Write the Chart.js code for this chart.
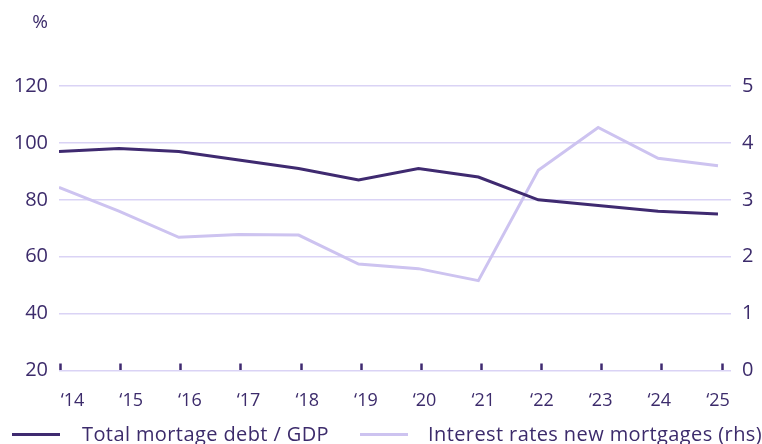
<!DOCTYPE html>
<html>
<head>
<meta charset="utf-8">
<title>Mortgage debt and interest rates</title>
<script src="https://cdn.jsdelivr.net/npm/chart.js@4.4.0/dist/chart.umd.min.js"></script>
<style>
    body { margin: 0; background: #fff; }
    #wrap { position: relative; width: 762px; height: 444px; }
    #legend { position: absolute; left: 0; top: 421px; width: 762px; height: 26px;
              font-family: "Open Sans", sans-serif; font-size: 20px; color: #3c2b6b;
              letter-spacing: 0.4px; }
    .item { position: absolute; top: 0; white-space: nowrap; line-height: 26px; }
    .swatch { position: absolute; top: 12px; height: 3px; width: 48px; }
</style>
</head>
<body>
<div id="wrap">
    <canvas id="chart" width="762" height="444"></canvas>
    <div id="legend">
        <span class="swatch" style="left:12px;background:#3f2a70"></span>
        <span class="item" style="left:82px">Total mortage debt / GDP</span>
        <span class="swatch" style="left:360px;background:#cdc3f0"></span>
        <span class="item" style="left:428px">Interest rates new mortgages (rhs)</span>
    </div>
</div>
<script>
// data
const years = [2014, 2015, 2016, 2017, 2018, 2019, 2020, 2021, 2022, 2023, 2024, 2025];
const debtToGdp = [97, 98, 97, 94, 91, 87, 91, 88, 80, 78, 76, 75];
const interestRates = [3.22, 2.8, 2.34, 2.39, 2.38, 1.87, 1.79, 1.58, 3.52, 4.27, 3.73, 3.6];
const leftTicks = [20, 40, 60, 80, 100, 120];
const rightTicks = [0, 1, 2, 3, 4, 5];

const textColor = '#3c2b6b';
const darkLine = '#3f2a70';
const lightLine = '#cdc3f0';
const gridColor = '#dad3f5';
const fontFamily = '"Open Sans", sans-serif';

// draws the "%" unit above the left axis
const unitLabel = {
    id: 'unitLabel',
    afterDraw(chart) {
        const ctx = chart.ctx;
        const yScale = chart.scales.y;
        ctx.save();
        ctx.font = '19px ' + fontFamily;
        ctx.fillStyle = textColor;
        ctx.textAlign = 'right';
        ctx.textBaseline = 'middle';
        ctx.fillText('%', yScale.right - 11, 23);
        ctx.restore();
    }
};

const config = {
    type: 'line',
    data: {
        datasets: [{
            label: 'Total mortage debt / GDP',
            data: years.map((yr, i) => ({ x: yr, y: debtToGdp[i] })),
            borderColor: darkLine,
            backgroundColor: darkLine,
            borderWidth: 3,
            pointRadius: 0,
            xAxisID: 'x',
            yAxisID: 'y'
        }, {
            label: 'Interest rates new mortgages (rhs)',
            data: years.map((yr, i) => ({ x: yr, y: interestRates[i] })),
            borderColor: lightLine,
            backgroundColor: lightLine,
            borderWidth: 3,
            pointRadius: 0,
            xAxisID: 'x',
            yAxisID: 'y1'
        }]
    },
    options: {
        responsive: false,
        animation: false,
        devicePixelRatio: 1,
        layout: { padding: { top: 86, bottom: 33.5, left: 0, right: 0 } },
        plugins: {
            legend: { display: false },
            tooltip: { enabled: false }
        },
        scales: {
            // data axis
            x: {
                type: 'linear',
                display: false,
                min: 2014,
                max: 2025.217
            },
            // tick marks
            xt: {
                type: 'linear',
                position: 'bottom',
                min: 2013.975,
                max: 2025.149,
                afterFit: s => { s.height = 0; },
                border: { display: false },
                grid: {
                    drawOnChartArea: false,
                    tickLength: -7,
                    tickWidth: 2.5,
                    tickColor: darkLine
                },
                ticks: { display: false, stepSize: 1, includeBounds: false }
            },
            // year labels
            xl: {
                type: 'linear',
                position: 'bottom',
                min: 2013.770,
                max: 2025.222,
                afterFit: s => { s.height = 40; },
                border: { display: false },
                grid: { display: false },
                ticks: {
                    stepSize: 1,
                    includeBounds: false,
                    autoSkip: false,
                    maxRotation: 0,
                    padding: 12,
                    color: textColor,
                    font: { family: fontFamily, size: 18 },
                    callback: v => '\u2018' + String(v).slice(2)
                }
            },
            y: {
                type: 'linear',
                position: 'left',
                min: leftTicks[0],
                max: leftTicks[leftTicks.length - 1],
                afterFit: s => { s.width = 59; },
                border: { display: false },
                grid: { color: gridColor, lineWidth: 1.5, drawTicks: false },
                ticks: {
                    stepSize: 20,
                    padding: 11,
                    color: textColor,
                    font: { family: fontFamily, size: 20 }
                }
            },
            y1: {
                type: 'linear',
                position: 'right',
                min: rightTicks[0],
                max: rightTicks[rightTicks.length - 1],
                afterFit: s => { s.width = 31; },
                border: { display: false },
                grid: { drawOnChartArea: false, drawTicks: false },
                ticks: {
                    stepSize: 1,
                    padding: 11,
                    color: textColor,
                    font: { family: fontFamily, size: 20 }
                }
            }
        }
    },
    plugins: [unitLabel]
};

new Chart(document.getElementById('chart'), config);
</script>
</body>
</html>
